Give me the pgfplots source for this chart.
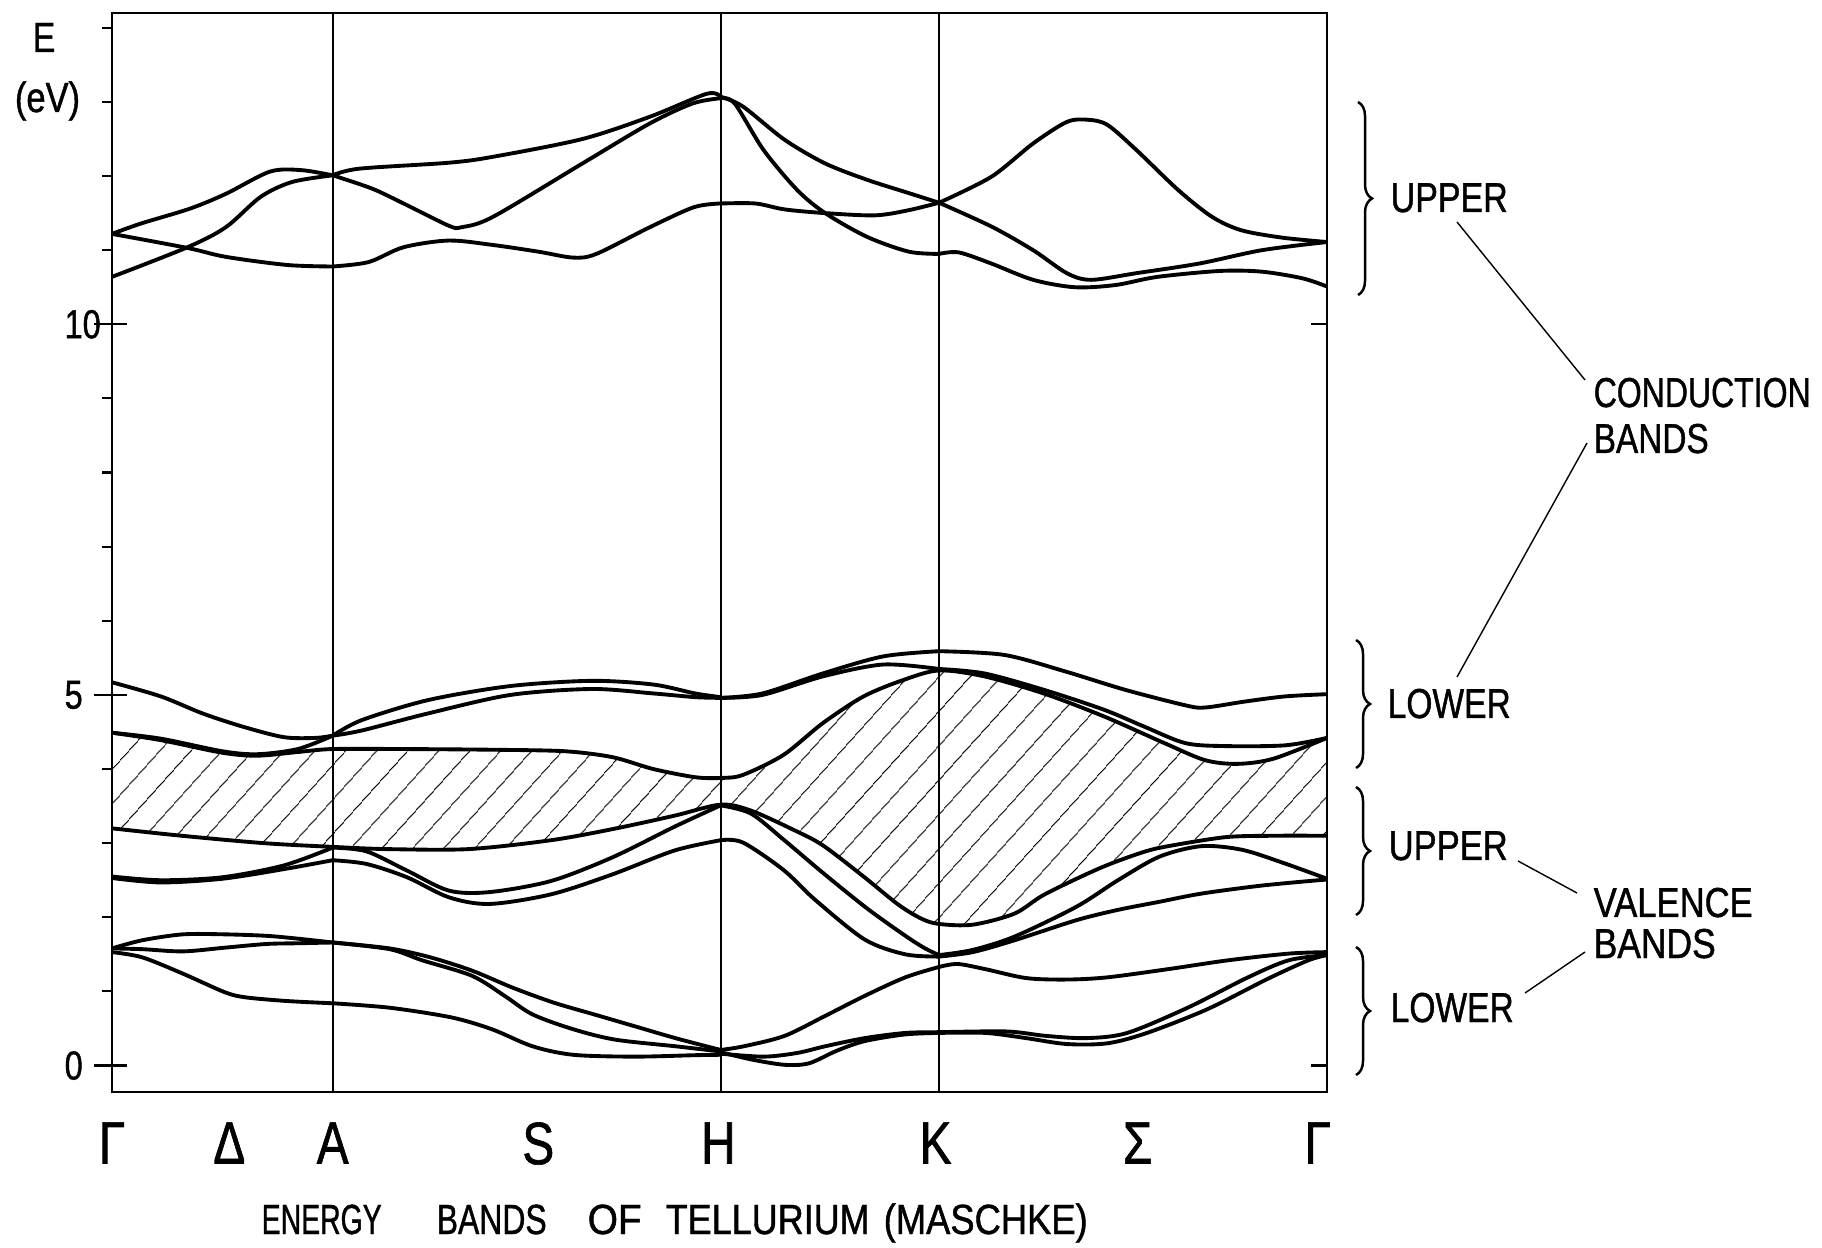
\documentclass[border=0pt]{standalone}
\usepackage{fontspec}
\setmainfont{Liberation Sans}[FakeStretch=0.8, FakeBold=1]
\usepackage{graphicx}
\usepackage{pgfplots}
\pgfplotsset{compat=1.18}
\usepgfplotslibrary{fillbetween}
\usetikzlibrary{patterns.meta,decorations.pathreplacing}
\tikzset{band/.style={black, line width=1.1pt, smooth, tension=0.5}}
\newcommand\fitw[2]{\resizebox{#1}{\height}{#2}}
\begin{document}
\begin{tikzpicture}
\begin{axis}[
  at={(1.12cm,1.55cm)}, anchor=south west,
  scale only axis, width=12.15cm, height=10.79cm,
  xmin=0, xmax=1046, ymin=-0.357, ymax=14.2,
  axis line style={line width=0.65pt},
  ytick={0,5,10}, yticklabels={0,5,10},
  minor ytick={1,2,3,4,6,7,8,9,11,12,13,14},
  ytick pos=left, tick align=outside,
  major tick length=0.18cm, minor tick length=0.10cm,
  tick style={black, line width=0.6pt},
  every x tick/.style={draw=none},
  xtick={0,101,190,367,522,709,883,1038},
  xticklabels={Γ,Δ,A,S,H,K,Σ,Γ},
  xticklabel style={font=\fontsize{17}{19}\selectfont},
  yticklabel style={font=\fontsize{11.5}{13}\selectfont, anchor=west, inner sep=0pt, xshift=-0.30cm},
]
% vertical symmetry lines
\addplot[black, line width=0.5pt] coordinates {(190,-0.357) (190,14.2)};
\addplot[black, line width=0.5pt] coordinates {(524,-0.357) (524,14.2)};
\addplot[black, line width=0.5pt] coordinates {(712,-0.357) (712,14.2)};

% ---------- hatched gap boundaries ----------
\addplot[band, name path=gtop] coordinates {(0,4.49) (42,4.39) (95,4.22) (125,4.18) (160,4.23) (190,4.27) (250,4.27) (330,4.26) (390,4.24) (431,4.16) (466,4.00) (502,3.89) (524,3.88) (543,3.92) (578,4.19) (612,4.62) (647,4.98) (681,5.20) (712,5.33) (751,5.25) (802,5.02) (854,4.71) (906,4.35) (941,4.12) (969,4.07) (1000,4.14) (1046,4.42)};
\addplot[band, name path=gbot] coordinates {(0,3.20) (60,3.10) (131,3.00) (190,2.95) (237,2.92) (307,2.92) (378,3.04) (431,3.19) (484,3.37) (524,3.52) (550,3.44) (588,3.17) (612,2.97) (647,2.55) (677,2.17) (697,1.98) (712,1.91) (741,1.90) (777,2.05) (803,2.31) (850,2.66) (884,2.86) (906,2.95) (958,3.08) (1000,3.10) (1046,3.10)};
\addplot[draw=none, pattern={Lines[angle=48,distance=6.5pt,line width=0.3pt]}] fill between[of=gtop and gbot];

% ---------- upper conduction bands ----------
\addplot[band] coordinates {(0,11.22) (25,11.36) (67,11.56) (98,11.76) (136,12.06) (163,12.08) (190,12.01)};
\addplot[band] coordinates {(0,10.64) (65,11.04) (98,11.31) (128,11.72) (155,11.92) (190,12.01)};
\addplot[band] coordinates {(0,11.22) (65,11.03) (98,10.91) (151,10.80) (190,10.78)};
\addplot[band] coordinates {(190,12.01) (213,12.10) (290,12.18) (328,12.26) (405,12.50) (463,12.80) (512,13.11) (524,13.07)};
\addplot[band] coordinates {(190,12.01) (224,11.83) (251,11.63) (290,11.33) (301,11.31) (328,11.45) (405,12.17) (463,12.71) (500,12.98) (524,13.05)};
\addplot[band] coordinates {(190,10.78) (221,10.84) (251,11.04) (290,11.13) (328,11.07) (367,10.98) (397,10.90) (417,10.95) (463,11.31) (501,11.58) (524,11.63)};
\addplot[band] coordinates {(524,13.07) (543,12.94) (579,12.49) (614,12.17) (650,11.95) (686,11.77) (712,11.64)};
\addplot[band] coordinates {(524,13.05) (536,12.98) (561,12.35) (590,11.81) (614,11.50) (650,11.18) (686,10.98) (712,10.95)};
\addplot[band] coordinates {(524,11.63) (554,11.63) (579,11.55) (614,11.50) (657,11.47) (686,11.54) (712,11.64)};
\addplot[band] coordinates {(712,11.64) (757,11.99) (793,12.44) (822,12.73) (840,12.76) (857,12.69) (882,12.35) (918,11.81) (947,11.45) (972,11.27) (1007,11.17) (1046,11.11)};
\addplot[band] coordinates {(712,11.64) (757,11.32) (793,11.00) (822,10.69) (843,10.60) (882,10.69) (936,10.82) (990,11.00) (1046,11.11)};
\addplot[band] coordinates {(712,10.95) (729,10.97) (757,10.82) (793,10.60) (829,10.50) (864,10.53) (900,10.64) (954,10.72) (990,10.71) (1025,10.62) (1046,10.51)};

% ---------- lower conduction bands ----------
\addplot[band] coordinates {(0,5.17) (42,4.98) (78,4.75) (113,4.57) (148,4.43) (175,4.42) (190,4.45)};
\addplot[band] coordinates {(0,4.49) (42,4.41) (95,4.24) (125,4.20) (160,4.27) (190,4.45)};
\addplot[band] coordinates {(190,4.45) (215,4.66) (272,4.93) (343,5.12) (413,5.19) (466,5.14) (502,5.02) (524,4.97)};
\addplot[band] coordinates {(190,4.45) (215,4.52) (272,4.75) (343,5.00) (413,5.08) (466,5.02) (502,4.97) (524,4.96)};
\addplot[band] coordinates {(524,4.96) (560,5.02) (612,5.29) (664,5.52) (712,5.59)};
\addplot[band] coordinates {(524,4.96) (560,5.00) (612,5.25) (664,5.41) (712,5.35)};
\addplot[band] coordinates {(712,5.59) (768,5.54) (820,5.32) (872,5.07) (924,4.86) (941,4.83) (975,4.91) (1010,4.98) (1046,5.01)};
\addplot[band] coordinates {(712,5.35) (751,5.29) (802,5.07) (854,4.80) (889,4.57) (924,4.35) (958,4.31) (1010,4.32) (1046,4.42)};

% ---------- upper valence bands ----------
\addplot[band] coordinates {(0,2.55) (42,2.50) (95,2.54) (148,2.70) (190,2.94)};
\addplot[band] coordinates {(0,2.53) (42,2.47) (95,2.52) (148,2.65) (190,2.77)};
\addplot[band] coordinates {(190,2.94) (219,2.89) (254,2.63) (290,2.36) (325,2.34) (378,2.49) (431,2.81) (484,3.22) (524,3.51)};
\addplot[band] coordinates {(190,2.77) (219,2.72) (254,2.54) (290,2.27) (325,2.18) (378,2.31) (431,2.58) (484,2.90) (524,3.04)};
\addplot[band] coordinates {(524,3.51) (550,3.40) (578,3.05) (612,2.60) (650,2.12) (683,1.75) (700,1.58) (712,1.49)};
\addplot[band] coordinates {(524,3.04) (543,3.01) (578,2.64) (605,2.24) (648,1.70) (683,1.50) (712,1.47)};
\addplot[band] coordinates {(712,1.49) (741,1.56) (777,1.74) (830,2.14) (866,2.50) (902,2.82) (938,2.96) (973,2.91) (1009,2.73) (1046,2.52)};
\addplot[band] coordinates {(712,1.47) (741,1.53) (777,1.69) (830,1.96) (866,2.10) (902,2.21) (938,2.32) (991,2.43) (1046,2.51)};

% ---------- lower valence bands ----------
\addplot[band] coordinates {(0,1.58) (26,1.69) (61,1.77) (97,1.77) (133,1.75) (161,1.71) (190,1.66)};
\addplot[band] coordinates {(0,1.58) (26,1.57) (61,1.54) (97,1.59) (133,1.64) (161,1.65) (190,1.66)};
\addplot[band] coordinates {(0,1.53) (26,1.46) (61,1.24) (97,0.99) (115,0.92) (151,0.87) (190,0.84)};
\addplot[band] coordinates {(190,1.66) (239,1.58) (274,1.46) (310,1.28) (345,1.05) (380,0.85) (415,0.69) (450,0.53) (485,0.37) (524,0.21)};
\addplot[band] coordinates {(190,1.66) (239,1.57) (267,1.42) (310,1.21) (338,0.94) (362,0.69) (397,0.49) (433,0.35) (485,0.26) (524,0.19)};
\addplot[band] coordinates {(190,0.84) (239,0.78) (292,0.65) (327,0.49) (362,0.26) (397,0.145) (450,0.12) (503,0.14) (524,0.145)};
\addplot[band] coordinates {(524,0.21) (544,0.26) (579,0.40) (614,0.67) (648,0.94) (683,1.19) (712,1.33)};
\addplot[band] coordinates {(524,0.18) (551,0.08) (579,0.01) (600,0.03) (624,0.20) (648,0.33) (683,0.42) (712,0.44)};
\addplot[band] coordinates {(524,0.16) (561,0.12) (590,0.17) (614,0.26) (648,0.37) (683,0.44) (712,0.45)};
\addplot[band] coordinates {(712,1.33) (728,1.37) (752,1.30) (787,1.18) (822,1.16) (857,1.19) (909,1.30) (961,1.42) (1013,1.51) (1046,1.53)};
\addplot[band] coordinates {(712,0.45) (770,0.46) (804,0.40) (839,0.37) (874,0.44) (926,0.78) (978,1.19) (1013,1.42) (1046,1.49)};
\addplot[band] coordinates {(712,0.44) (752,0.44) (787,0.37) (822,0.29) (857,0.30) (891,0.44) (943,0.76) (995,1.17) (1030,1.42) (1046,1.49)};

% inward parts of major ticks, right-hand ticks
\pgfplotsinvokeforeach{0,5,10}{
  \draw[line width=0.6pt] (axis cs:0,#1) -- ++(0.15cm,0pt);
  \draw[line width=0.6pt] (axis cs:1046,#1) -- ++(-0.16cm,0pt);
}
\end{axis}

% axis label
\node[anchor=base, inner sep=0] at (0.44,11.95) {\fontsize{12}{13}\selectfont E};
\node[anchor=base, inner sep=0] at (0.475,11.35) {\fontsize{12}{13}\selectfont\fitw{0.65cm}{(eV)}};

% braces
\begin{scope}[line width=0.7pt, decoration={brace, amplitude=0.14cm}]
\draw[decorate] (13.58,11.45) -- (13.58,9.52);
\draw[decorate] (13.56,6.07) -- (13.56,4.79);
\draw[decorate] (13.56,4.60) -- (13.56,3.32);
\draw[decorate] (13.56,3.00) -- (13.56,1.72);
\end{scope}

% side labels
\begin{scope}[every node/.style={anchor=base west, inner sep=0, font=\fontsize{11.9}{14}\selectfont}]
\node at (13.90,10.35) {\fitw{1.17cm}{UPPER}};
\node at (15.93,8.40) {\fitw{2.17cm}{CONDUCTION}};
\node at (15.93,7.94) {\fitw{1.15cm}{BANDS}};
\node at (13.87,5.29) {\fitw{1.23cm}{LOWER}};
\node at (13.88,3.87) {\fitw{1.19cm}{UPPER}};
\node at (15.93,3.30) {\fitw{1.59cm}{VALENCE}};
\node at (15.93,2.89) {\fitw{1.22cm}{BANDS}};
\node at (13.90,2.25) {\fitw{1.23cm}{LOWER}};
\end{scope}

% connector lines
\begin{scope}[line width=0.4pt]
\draw (14.57,10.25) -- (15.85,8.67);
\draw (14.57,5.70) -- (15.87,8.04);
\draw (15.18,3.86) -- (15.77,3.54);
\draw (15.25,2.54) -- (15.85,2.95);
\end{scope}

% title
\begin{scope}[every node/.style={anchor=base west, inner sep=0, font=\fontsize{12}{14}\selectfont}]
\node at (2.61,0.13) {\fitw{1.20cm}{ENERGY}};
\node at (4.36,0.13) {\fitw{1.10cm}{BANDS}};
\node at (5.87,0.13) {\fitw{0.54cm}{OF}};
\node at (6.65,0.13) {\fitw{2.04cm}{TELLURIUM}};
\node at (8.83,0.13) {\fitw{2.04cm}{(MASCHKE)}};
\end{scope}

\pgfresetboundingbox
\path[use as bounding box] (0,0) rectangle (18.22,12.47);
\end{tikzpicture}
\end{document}
